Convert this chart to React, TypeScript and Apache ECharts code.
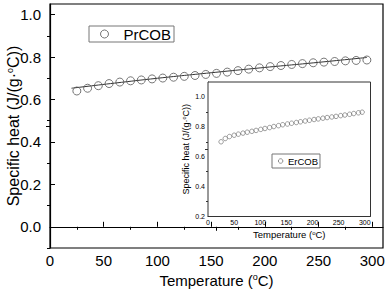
import React, { useEffect, useRef } from "react";
import * as echarts from "echarts";

const prTemps = [25, 35, 45, 55, 65, 75, 85, 95, 105, 115, 125, 135, 145, 155, 165, 175, 185, 195, 205, 215, 225, 235, 245, 255, 265, 275, 285, 295];
const prHeat = [0.640, 0.653, 0.665, 0.675, 0.682, 0.688, 0.692, 0.697, 0.701, 0.705, 0.709, 0.713, 0.718, 0.723, 0.729, 0.736, 0.743, 0.749, 0.755, 0.760, 0.765, 0.769, 0.773, 0.776, 0.779, 0.782, 0.784, 0.786];
const fitTemps = [20, 60, 100, 150, 200, 250, 295];
const fitHeat = [0.653, 0.677, 0.700, 0.726, 0.751, 0.775, 0.798];
const erTemps = [25, 33, 41, 50, 58, 67, 75, 84, 92, 101, 109, 118, 126, 135, 143, 152, 160, 169, 177, 186, 194, 203, 211, 220, 228, 237, 245, 254, 262, 271, 279, 288, 295];
const erHeat = [0.700, 0.722, 0.735, 0.744, 0.751, 0.758, 0.764, 0.770, 0.776, 0.783, 0.789, 0.795, 0.802, 0.808, 0.814, 0.819, 0.824, 0.829, 0.834, 0.839, 0.844, 0.849, 0.853, 0.858, 0.862, 0.866, 0.870, 0.875, 0.879, 0.884, 0.889, 0.894, 0.898];

const xMajor = [0, 50, 100, 150, 200, 250, 300];
const xMinor = [25, 75, 125, 175, 225, 275];
const mainYMajor = [0, 0.2, 0.4, 0.6, 0.8, 1.0];
const mainYMinor = [-0.1, 0.1, 0.3, 0.5, 0.7, 0.9];
const insetYMajor = [0.2, 0.4, 0.6, 0.8, 1.0];
const insetYMinor = [0.3, 0.5, 0.7, 0.9];

const FONT = "Arial";

export default function App() {
  const ref = useRef<HTMLDivElement>(null);
  useEffect(() => {
    if (!ref.current) return;
    const chart = echarts.init(ref.current, null, { renderer: "svg" });
    const pr = prTemps.map((t, i) => [t, prHeat[i]]);
    const fit = fitTemps.map((t, i) => [t, fitHeat[i]]);
    const er = erTemps.map((t, i) => [t, erHeat[i]]);
    const fmt1 = (v: number) => v.toFixed(1);

    const hidden = { show: false };
    const baseX = (grid: number, min: number, max: number) => ({
      type: "value", gridIndex: grid, min, max, splitLine: hidden,
    });

    chart.setOption({
      animation: false,
      backgroundColor: "#fff",
      textStyle: { fontFamily: FONT, fontWeight: "normal" },
      grid: [
        { left: 50, top: 4, width: 333, height: 244, show: true, borderColor: "#000", borderWidth: 1.2, backgroundColor: "transparent", z: 0, containLabel: false, outerBoundsMode: "none" },
        { left: 208, top: 82, width: 162.5, height: 134.5, show: true, borderColor: "#333", borderWidth: 1, backgroundColor: "#fff", z: 2, containLabel: false, outerBoundsMode: "none" },
      ],
      legend: [
        {
          data: [{ name: "PrCOB", icon: "circle", itemStyle: { color: "transparent", borderColor: "#555", borderWidth: 1 } }],
          left: 89, top: 26, padding: [0, 3, 0, 11], itemWidth: 8, itemHeight: 8,
          borderColor: "#777", borderWidth: 1, backgroundColor: "#fff",
          textStyle: { fontSize: 15, color: "#000", fontFamily: FONT, fontWeight: "normal", lineHeight: 15, padding: [1, 0, 0, 10] },
          selectedMode: false,
        },
        {
          data: [{ name: "ErCOB", icon: "circle", itemStyle: { color: "transparent", borderColor: "#555", borderWidth: 0.8 } }],
          left: 272, top: 154, padding: [0, 2, 0, 6], itemWidth: 4.5, itemHeight: 4.5,
          borderColor: "#777", borderWidth: 1, backgroundColor: "#fff",
          textStyle: { fontSize: 9.5, color: "#000", fontFamily: FONT, fontWeight: "normal", lineHeight: 13, padding: [1, 0, 0, 0] },
          selectedMode: false, z: 10,
        },
      ],
      xAxis: [
        {
          ...baseX(0, 0, 310),
          interval: 50,
          name: "Temperature ({sup|o}C)", nameLocation: "middle", nameGap: 24, nameMoveOverlap: false,
          nameTextStyle: { fontSize: 15, color: "#000", fontFamily: FONT, fontWeight: "normal", rich: { sup: { fontSize: 9, verticalAlign: "top", padding: [0, 0, 7, 0] } } },
          axisLine: { lineStyle: { color: "#000", width: 1.2 } },
          axisTick: { inside: true, length: 5, customValues: xMajor, lineStyle: { color: "#000" } },
          axisLabel: { customValues: xMajor, fontSize: 15, color: "#000", margin: 5, fontFamily: FONT },
        },
        {
          ...baseX(0, 0, 310),
          axisLine: hidden, axisLabel: hidden,
          axisTick: { inside: true, length: 3, customValues: xMinor, lineStyle: { color: "#000" } },
        },
        {
          ...baseX(0, 0, 310), position: "top",
          axisLine: hidden, axisLabel: hidden,
          axisTick: { inside: true, length: 4, customValues: [155], lineStyle: { color: "#000" } },
        },
        {
          ...baseX(1, 0, 311),
          interval: 50,
          name: "Temperature ({sup|o}C)", nameLocation: "middle", nameGap: 13, nameMoveOverlap: false,
          nameTextStyle: { fontSize: 9.5, color: "#000", fontFamily: FONT, fontWeight: "normal", rich: { sup: { fontSize: 6, verticalAlign: "top", padding: [0, 0, 4, 0] } } },
          axisLine: { lineStyle: { color: "#333", width: 1 } },
          axisTick: { inside: true, length: 3, customValues: xMajor, lineStyle: { color: "#333" } },
          axisLabel: { customValues: xMajor, fontSize: 7, color: "#000", margin: 2, fontFamily: FONT },
        },
        {
          ...baseX(1, 0, 311),
          axisLine: hidden, axisLabel: hidden,
          axisTick: { inside: true, length: 2, customValues: xMinor, lineStyle: { color: "#333" } },
        },
        {
          ...baseX(1, 0, 311), position: "top",
          axisLine: hidden, axisLabel: hidden,
          axisTick: { inside: true, length: 3, customValues: [155.5], lineStyle: { color: "#333" } },
        },
      ],
      yAxis: [
        {
          type: "value", gridIndex: 0, min: -0.1, max: 1.05, splitLine: hidden,
          name: "Specific heat (J/(g·{sup|o}C))", nameLocation: "middle", nameGap: 28, nameMoveOverlap: false,
          nameTextStyle: { fontSize: 16, color: "#000", fontFamily: FONT, fontWeight: "normal", rich: { sup: { fontSize: 9, verticalAlign: "top", padding: [0, 0, 8, 0] } } },
          axisLine: { show: true, lineStyle: { color: "#000", width: 1.2 } },
          axisTick: { show: true, inside: true, length: 5, customValues: mainYMajor, lineStyle: { color: "#000" } },
          axisLabel: { customValues: mainYMajor, formatter: fmt1, fontSize: 15, color: "#000", margin: 9, fontFamily: FONT },
        },
        {
          type: "value", gridIndex: 0, min: -0.1, max: 1.05, splitLine: hidden,
          axisLine: hidden, axisLabel: hidden,
          axisTick: { show: true, inside: true, length: 3, customValues: mainYMinor, lineStyle: { color: "#000" } },
        },
        {
          type: "value", gridIndex: 0, min: -0.1, max: 1.05, splitLine: hidden, position: "right",
          axisLine: hidden, axisLabel: hidden,
          axisTick: { show: true, inside: true, length: 4, customValues: [0.475], lineStyle: { color: "#000" } },
        },
        {
          type: "value", gridIndex: 1, min: 0.2, max: 1.1, splitLine: hidden,
          name: "Specific heat (J/(g·{sup|o}C))", nameLocation: "middle", nameGap: 17, nameMoveOverlap: false,
          nameTextStyle: { fontSize: 9, color: "#000", fontFamily: FONT, fontWeight: "normal", rich: { sup: { fontSize: 5.5, verticalAlign: "top", padding: [0, 0, 4, 0] } } },
          axisLine: { show: true, lineStyle: { color: "#333", width: 1 } },
          axisTick: { show: true, inside: true, length: 3, customValues: insetYMajor, lineStyle: { color: "#333" } },
          axisLabel: { customValues: insetYMajor, formatter: fmt1, fontSize: 7, color: "#000", margin: 3, fontFamily: FONT },
        },
        {
          type: "value", gridIndex: 1, min: 0.2, max: 1.1, splitLine: hidden,
          axisLine: hidden, axisLabel: hidden,
          axisTick: { show: true, inside: true, length: 2, customValues: insetYMinor, lineStyle: { color: "#333" } },
        },
        {
          type: "value", gridIndex: 1, min: 0.2, max: 1.1, splitLine: hidden, position: "right",
          axisLine: hidden, axisLabel: hidden,
          axisTick: { show: true, inside: true, length: 3, customValues: [0.65], lineStyle: { color: "#333" } },
        },
      ],
      series: [
        {
          name: "fit", type: "line", xAxisIndex: 0, yAxisIndex: 0, data: fit, smooth: true,
          showSymbol: false, symbol: "none", lineStyle: { color: "#333", width: 1 }, z: 2,
        },
        {
          name: "PrCOB", type: "scatter", xAxisIndex: 0, yAxisIndex: 0, data: pr,
          symbol: "circle", symbolSize: 8,
          itemStyle: { color: "transparent", borderColor: "#555", borderWidth: 1 }, z: 3,
        },
        {
          name: "ErCOB", type: "scatter", xAxisIndex: 3, yAxisIndex: 3, data: er,
          symbol: "circle", symbolSize: 4.5,
          itemStyle: { color: "transparent", borderColor: "#666", borderWidth: 0.8 }, z: 5,
        },
      ],
    });
    return () => chart.dispose();
  }, []);
  return <div ref={ref} style={{ width: 387, height: 290, position: "fixed", left: 0, top: 0 }} />;
}
